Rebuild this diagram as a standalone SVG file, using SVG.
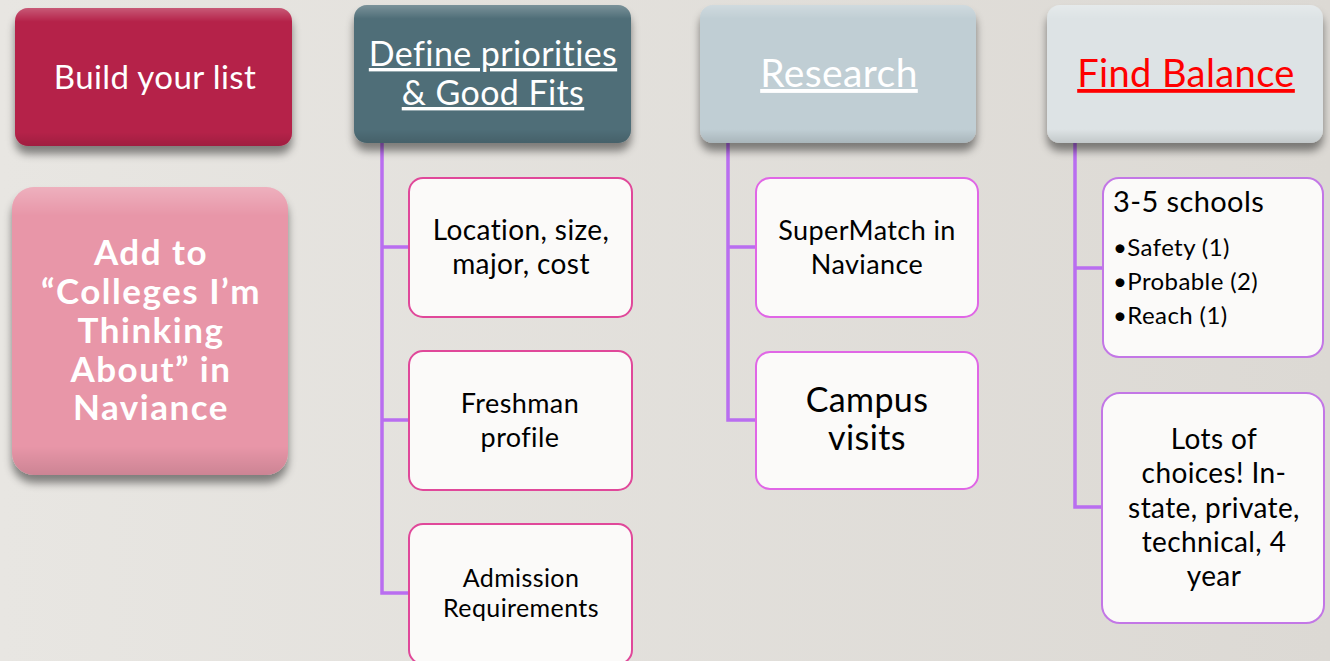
<svg xmlns="http://www.w3.org/2000/svg" width="1330" height="661" viewBox="0 0 1330 661">
<defs>
<linearGradient id="bg" x1="0" y1="0" x2="1" y2="0">
<stop offset="0" stop-color="#e8e6e2"/>
<stop offset="1" stop-color="#dcd9d4"/>
</linearGradient>
<filter id="sh" x="-10%" y="-10%" width="120%" height="130%">
<feDropShadow dx="0" dy="8" stdDeviation="4" flood-color="#000" flood-opacity="0.45"/>
</filter>
<linearGradient id="gloss" x1="0" y1="0" x2="0" y2="1">
<stop offset="0" stop-color="#fff" stop-opacity="0.25"/>
<stop offset="0.1" stop-color="#fff" stop-opacity="0"/>
<stop offset="0.9" stop-color="#000" stop-opacity="0"/>
<stop offset="1" stop-color="#000" stop-opacity="0.12"/>
</linearGradient>
</defs>
<style>
.t{font-family:Lato,"Open Sans","Liberation Sans",sans-serif;text-anchor:middle;letter-spacing:0.4px}
.s{text-anchor:start}
.w{fill:#ffffff}
.k{fill:#000000}
.child{fill:#fbfaf9;stroke-width:2}
.c2{stroke:#e0489a}
.c3{stroke:#e066e6}
.c4{stroke:#c377e6}
.conn{fill:none;stroke:#b96ef0;stroke-width:3.5}
.u{text-decoration:underline}
.b{font-weight:bold;font-size:35px;letter-spacing:1.5px}
</style>
<rect width="1330" height="661" fill="url(#bg)"/>

<g id="connectors">
<path class="conn" d="M382 143 V593 H409 M382 247 H409 M382 420 H409"/>
<path class="conn" d="M728 143 V420 H756 M728 247 H756"/>
<path class="conn" d="M1075 143 V507 H1102 M1075 268 H1102"/>
</g>

<g id="build">
<rect x="15" y="8" width="277" height="138" rx="13" fill="#b5214a" filter="url(#sh)"/>
<rect x="15" y="8" width="277" height="138" rx="13" fill="url(#gloss)"/>
<text class="t w" x="155" y="89" font-size="33">Build your list</text>
</g>

<g id="add">
<rect x="12" y="187" width="276" height="288" rx="22" fill="#e896a8" filter="url(#sh)"/>
<rect x="12" y="187" width="276" height="288" rx="22" fill="url(#gloss)"/>
<text class="t w b" x="151" y="265">Add to</text>
<text class="t w b" x="151" y="304">“Colleges I’m</text>
<text class="t w b" x="151" y="343">Thinking</text>
<text class="t w b" x="151" y="382">About” in</text>
<text class="t w b" x="151" y="420">Naviance</text>
</g>

<g id="define">
<rect x="354" y="5" width="277" height="138" rx="13" fill="#4f6e78" filter="url(#sh)"/>
<rect x="354" y="5" width="277" height="138" rx="13" fill="url(#gloss)"/>
<text class="t w u" x="493" y="66" font-size="34">Define priorities</text>
<text class="t w u" x="493" y="105" font-size="34">&amp; Good Fits</text>
</g>

<g id="research">
<rect x="700" y="5" width="276" height="138" rx="13" fill="#c0ced4" filter="url(#sh)"/>
<rect x="700" y="5" width="276" height="138" rx="13" fill="url(#gloss)"/>
<text class="t w u" x="839" y="87" font-size="39">Research</text>
</g>

<g id="balance">
<rect x="1047" y="5" width="276" height="138" rx="13" fill="#dde3e5" filter="url(#sh)"/>
<rect x="1047" y="5" width="276" height="138" rx="13" fill="url(#gloss)"/>
<text class="t u" x="1186" y="87" font-size="38" fill="#ff0000">Find Balance</text>
</g>

<g id="location">
<rect class="child c2" x="409" y="178" width="223" height="139" rx="14"/>
<text class="t k" x="521" y="240" font-size="28">Location, size,</text>
<text class="t k" x="521" y="274" font-size="28">major, cost</text>
</g>

<g id="freshman">
<rect class="child c2" x="409" y="351" width="223" height="139" rx="14"/>
<text class="t k" x="520" y="413" font-size="27">Freshman</text>
<text class="t k" x="520" y="447" font-size="27">profile</text>
</g>

<g id="admission">
<rect class="child c2" x="409" y="524" width="223" height="140" rx="14"/>
<text class="t k" x="521" y="587" font-size="25">Admission</text>
<text class="t k" x="521" y="617" font-size="25">Requirements</text>
</g>

<g id="supermatch">
<rect class="child c3" x="756" y="178" width="222" height="139" rx="14"/>
<text class="t k" x="867" y="240" font-size="27">SuperMatch in</text>
<text class="t k" x="867" y="274" font-size="27">Naviance</text>
</g>

<g id="campus">
<rect class="child c3" x="756" y="352" width="222" height="137" rx="14"/>
<text class="t k" x="867" y="412" font-size="34">Campus</text>
<text class="t k" x="867" y="450" font-size="34">visits</text>
</g>

<g id="schools">
<rect class="child c4" x="1103" y="178" width="220" height="179" rx="16"/>
<text class="t k s" x="1113" y="212" font-size="29">3-5 schools</text>
<text class="t k s" x="1113" y="256" font-size="24">•Safety (1)</text>
<text class="t k s" x="1113" y="290" font-size="24">•Probable (2)</text>
<text class="t k s" x="1113" y="324" font-size="24">•Reach (1)</text>
</g>

<g id="choices">
<rect class="child c4" x="1102" y="393" width="222" height="230" rx="18"/>
<text class="t k" x="1214" y="449" font-size="28">Lots of</text>
<text class="t k" x="1214" y="483" font-size="28">choices! In-</text>
<text class="t k" x="1214" y="518" font-size="28">state, private,</text>
<text class="t k" x="1214" y="552" font-size="28">technical, 4</text>
<text class="t k" x="1214" y="586" font-size="28">year</text>
</g>
</svg>
